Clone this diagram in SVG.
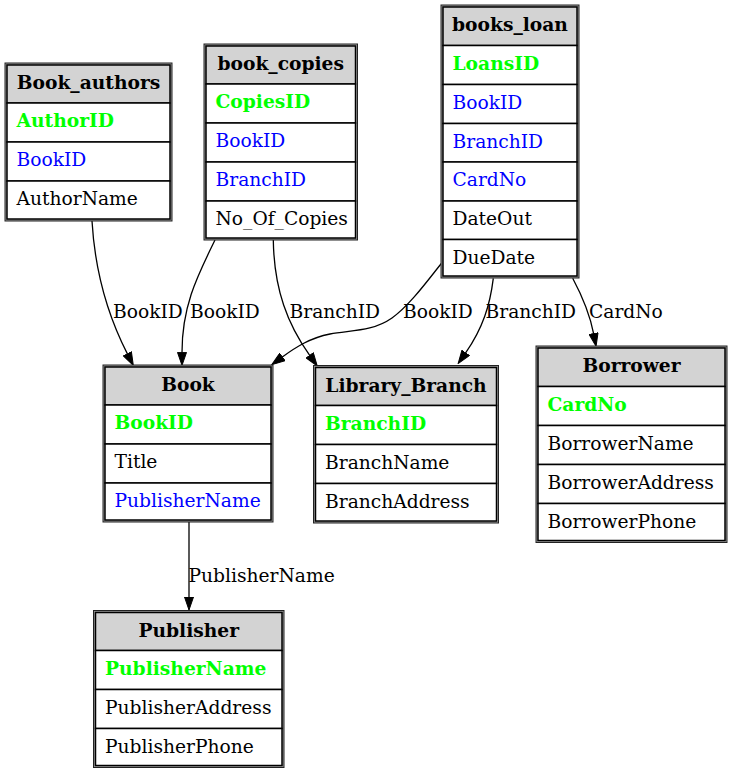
<svg xmlns="http://www.w3.org/2000/svg" width="731" height="773" viewBox="0 0 731 773">
<defs>
<style>
.outer{fill:#9a9a9a;stroke:#222;stroke-width:1}
.hdr{fill:#d3d3d3;stroke:#000;stroke-width:1.5}
.cell{fill:#fff;stroke:#000;stroke-width:1.5}
text{font-family:"DejaVu Serif","Liberation Serif",serif;font-size:18.67px;fill:#000}
.h{font-weight:bold;text-anchor:middle}
.pk{fill:#00ff00;font-weight:bold}
.fk{fill:#0000ff}
.edge{fill:none;stroke:#000;stroke-width:1.3}
</style>
<marker id="arr" markerUnits="userSpaceOnUse" markerWidth="14" markerHeight="10" viewBox="0 0 14 10" refX="0.5" refY="5" orient="auto"><path d="M0.5,0.5 L13.5,5 L0.5,9.5 z" fill="#000" stroke="#000" stroke-width="1"/></marker>
</defs>
<rect width="731" height="773" fill="#fff"/>
<g id="connectors">
<path class="edge" d="M92,221 C95,272 108,316 127.4,353.9" marker-end="url(#arr)"/>
<text x="113" y="317.5">BookID</text>
<path class="edge" d="M215,240 C198,275 182,305 182,352.4" marker-end="url(#arr)"/>
<text x="190" y="317.5">BookID</text>
<path class="edge" d="M273.3,240 C274,290 288,325 309.7,355.4" marker-end="url(#arr)"/>
<text x="289.5" y="317.5">BranchID</text>
<path class="edge" d="M441.7,263 C428,280 410,305 392,318 C372,332 350,330 330,334 C310,338 296,347 282.3,357" marker-end="url(#arr)"/>
<text x="403" y="317.5">BookID</text>
<path class="edge" d="M493.3,278.3 C490,305 483,328 465.6,352.9" marker-end="url(#arr)"/>
<text x="485.5" y="317.5">BranchID</text>
<path class="edge" d="M572.7,278.3 C580,292 590,315 593.6,333.6" marker-end="url(#arr)"/>
<text x="589" y="317.5">CardNo</text>
<path class="edge" d="M189,522 L189,597" marker-end="url(#arr)"/>
<text x="188.5" y="581.7">PublisherName</text>
</g>
<g id="Book_authors">
<rect class="outer" x="5" y="63" width="167" height="158"/>
<rect class="hdr" x="7" y="65" width="163" height="38"/>
<rect class="cell" x="7" y="103" width="163" height="39"/>
<rect class="cell" x="7" y="142" width="163" height="39"/>
<rect class="cell" x="7" y="181" width="163" height="38"/>
<text class="h" x="88.5" y="89">Book_authors</text>
<text class="pk" x="16.5" y="127">AuthorID</text>
<text class="fk" x="16.5" y="166">BookID</text>
<text x="16.5" y="205">AuthorName</text>
</g>
<g id="book_copies">
<rect class="outer" x="204" y="44" width="153.5" height="196"/>
<rect class="hdr" x="206" y="46" width="149.5" height="38"/>
<rect class="cell" x="206" y="84" width="149.5" height="39"/>
<rect class="cell" x="206" y="123" width="149.5" height="39"/>
<rect class="cell" x="206" y="162" width="149.5" height="39"/>
<rect class="cell" x="206" y="201" width="149.5" height="37"/>
<text class="h" x="280.75" y="70">book_copies</text>
<text class="pk" x="215.5" y="108">CopiesID</text>
<text class="fk" x="215.5" y="147">BookID</text>
<text class="fk" x="215.5" y="186">BranchID</text>
<text x="215.5" y="225">No_Of_Copies</text>
</g>
<g id="books_loan">
<rect class="outer" x="441" y="5" width="138" height="273"/>
<rect class="hdr" x="443" y="7" width="134" height="38.5"/>
<rect class="cell" x="443" y="45.5" width="134" height="39"/>
<rect class="cell" x="443" y="84.5" width="134" height="39"/>
<rect class="cell" x="443" y="123.5" width="134" height="38.5"/>
<rect class="cell" x="443" y="162" width="134" height="39"/>
<rect class="cell" x="443" y="201" width="134" height="38.5"/>
<rect class="cell" x="443" y="239.5" width="134" height="36.5"/>
<text class="h" x="510" y="31">books_loan</text>
<text class="pk" x="452.5" y="69.5">LoansID</text>
<text class="fk" x="452.5" y="108.5">BookID</text>
<text class="fk" x="452.5" y="147.5">BranchID</text>
<text class="fk" x="452.5" y="186">CardNo</text>
<text x="452.5" y="225">DateOut</text>
<text x="452.5" y="263.5">DueDate</text>
</g>
<g id="Book">
<rect class="outer" x="103" y="365" width="170" height="157"/>
<rect class="hdr" x="105" y="367" width="166" height="38"/>
<rect class="cell" x="105" y="405" width="166" height="39"/>
<rect class="cell" x="105" y="444" width="166" height="39"/>
<rect class="cell" x="105" y="483" width="166" height="37"/>
<text class="h" x="188" y="391">Book</text>
<text class="pk" x="114.5" y="429">BookID</text>
<text x="114.5" y="468">Title</text>
<text class="fk" x="114.5" y="507">PublisherName</text>
</g>
<g id="Library_Branch">
<rect class="outer" x="313.5" y="365.5" width="185" height="157.5"/>
<rect class="hdr" x="315.5" y="367.5" width="181" height="38"/>
<rect class="cell" x="315.5" y="405.5" width="181" height="39"/>
<rect class="cell" x="315.5" y="444.5" width="181" height="39"/>
<rect class="cell" x="315.5" y="483.5" width="181" height="37.5"/>
<text class="h" x="406" y="391.5">Library_Branch</text>
<text class="pk" x="325" y="429.5">BranchID</text>
<text x="325" y="468.5">BranchName</text>
<text x="325" y="507.5">BranchAddress</text>
</g>
<g id="Borrower">
<rect class="outer" x="536" y="346" width="191" height="196.5"/>
<rect class="hdr" x="538" y="348" width="187" height="38.5"/>
<rect class="cell" x="538" y="386.5" width="187" height="39"/>
<rect class="cell" x="538" y="425.5" width="187" height="39"/>
<rect class="cell" x="538" y="464.5" width="187" height="39"/>
<rect class="cell" x="538" y="503.5" width="187" height="37"/>
<text class="h" x="631.5" y="372">Borrower</text>
<text class="pk" x="547.5" y="410.5">CardNo</text>
<text x="547.5" y="449.5">BorrowerName</text>
<text x="547.5" y="488.5">BorrowerAddress</text>
<text x="547.5" y="527.5">BorrowerPhone</text>
</g>
<g id="Publisher">
<rect class="outer" x="93.5" y="610.5" width="190.5" height="157"/>
<rect class="hdr" x="95.5" y="612.5" width="186.5" height="38"/>
<rect class="cell" x="95.5" y="650.5" width="186.5" height="39"/>
<rect class="cell" x="95.5" y="689.5" width="186.5" height="39"/>
<rect class="cell" x="95.5" y="728.5" width="186.5" height="37"/>
<text class="h" x="188.75" y="636.5">Publisher</text>
<text class="pk" x="105" y="674.5">PublisherName</text>
<text x="105" y="713.5">PublisherAddress</text>
<text x="105" y="752.5">PublisherPhone</text>
</g>
</svg>
